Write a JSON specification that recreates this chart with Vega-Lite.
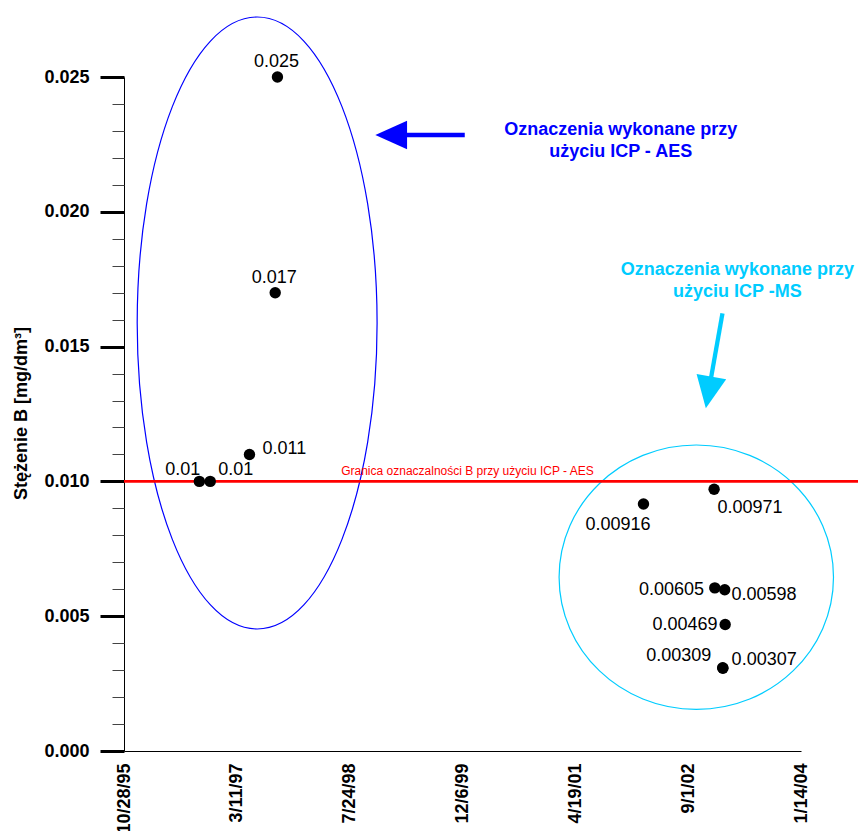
{
  "$schema": "https://vega.github.io/schema/vega-lite/v6.json",
  "width": 677,
  "height": 674,
  "autosize": {"type": "none"},
  "padding": {"left": 124, "top": 77, "right": 57, "bottom": 80},
  "config": {"view": {"stroke": null}, "font": "Liberation Sans"},
  "datasets": {
    "samples": [
      {"n": 1, "date": "1996-09-26", "value": 0.01, "label": "0.01"},
      {"n": 2, "date": "1996-11-13", "value": 0.01, "label": "0.01"},
      {"n": 3, "date": "1997-05-06", "value": 0.011, "label": "0.011"},
      {"n": 4, "date": "1997-08-28", "value": 0.017, "label": "0.017"},
      {"n": 5, "date": "1997-09-07", "value": 0.025, "label": "0.025"},
      {"n": 6, "date": "2002-02-15", "value": 0.00916, "label": "0.00916"},
      {"n": 7, "date": "2002-12-25", "value": 0.00971, "label": "0.00971"},
      {"n": 8, "date": "2002-12-28", "value": 0.00605, "label": "0.00605"},
      {"n": 9, "date": "2003-02-10", "value": 0.00598, "label": "0.00598"},
      {"n": 10, "date": "2003-02-12", "value": 0.00469, "label": "0.00469"},
      {"n": 11, "date": "2003-02-01", "value": 0.00309, "label": "0.00309"},
      {"n": 12, "date": "2003-02-02", "value": 0.00307, "label": "0.00307"}
    ]
  },
  "layer": [
    {
      "layer": [
        {
          "data": {"values": [{}]},
          "mark": {"type": "point", "shape": "M0,-1C0.2165,-1 0.392,-0.5523 0.392,0C0.392,0.5523 0.2165,1 0,1C-0.2165,1 -0.392,0.5523 -0.392,0C-0.392,-0.5523 -0.2165,-1 0,-1Z", "size": 374544, "filled": false, "color": "#0000ff", "strokeWidth": 1.2, "opacity": 1},
          "encoding": {
            "x": {"datum": {"year": 1997, "month": 6, "date": 9}, "type": "temporal", "axis": null},
            "y": {"datum": 0.015875, "type": "quantitative", "axis": null}
          }
        },
        {
          "data": {"values": [{}]},
          "mark": {"type": "point", "shape": "M0,-0.9636C0.5523,-0.9636 1,-0.5322 1,0C1,0.5322 0.5523,0.9636 0,0.9636C-0.5523,0.9636 -1,0.5322 -1,0C-1,-0.5322 -0.5523,-0.9636 0,-0.9636Z", "size": 75295, "filled": false, "color": "#00ccff", "strokeWidth": 1.2, "opacity": 1},
          "encoding": {
            "x": {"datum": {"year": 2002, "month": 10, "date": 7}, "type": "temporal", "axis": null},
            "y": {"datum": 0.006447, "type": "quantitative", "axis": null}
          }
        },
        {
          "data": {"values": [{}]},
          "mark": {"type": "rule", "color": "#ff0000", "strokeWidth": 2.7},
          "encoding": {
            "x": {"datum": {"year": 1995, "month": 10, "date": 28}, "type": "temporal", "axis": null},
            "x2": {"datum": {"year": 2004, "month": 9, "date": 23}},
            "y": {"datum": 0.01, "type": "quantitative", "axis": null}
          }
        },
        {
          "data": {"values": [{}]},
          "mark": {"type": "text", "text": "Granica oznaczalności B przy użyciu ICP - AES", "color": "#ff0000", "fontSize": 12, "align": "center", "baseline": "alphabetic", "dy": -6},
          "encoding": {
            "x": {"datum": {"year": 1999, "month": 12, "date": 28}, "type": "temporal", "axis": null},
            "y": {"datum": 0.01, "type": "quantitative", "axis": null}
          }
        },
        {
          "data": {"values": [{}]},
          "mark": {"type": "rule", "color": "#0000ff", "strokeWidth": 4.3},
          "encoding": {
            "x": {"datum": {"year": 1999, "month": 3, "date": 6}, "type": "temporal", "axis": null},
            "x2": {"datum": {"year": 1999, "month": 12, "date": 16}},
            "y": {"datum": 0.022849, "type": "quantitative", "axis": null}
          }
        },
        {
          "data": {"values": [{}]},
          "mark": {"type": "point", "shape": "M-1,0L1,-0.9L1,0.9Z", "size": 1005, "filled": true, "color": "#0000ff", "opacity": 1, "strokeWidth": 0},
          "encoding": {
            "x": {"datum": {"year": 1999, "month": 1, "date": 24}, "type": "temporal", "axis": null},
            "y": {"datum": 0.022849, "type": "quantitative", "axis": null}
          }
        },
        {
          "data": {"values": [{}]},
          "mark": {"type": "rule", "color": "#00ccff", "strokeWidth": 4.3},
          "encoding": {
            "x": {"datum": {"year": 2003, "month": 1, "date": 31}, "type": "temporal", "axis": null},
            "x2": {"datum": {"year": 2002, "month": 11, "date": 30}},
            "y": {"datum": 0.016235, "type": "quantitative", "axis": null},
            "y2": {"datum": 0.0133}
          }
        },
        {
          "data": {"values": [{}]},
          "mark": {"type": "point", "shape": "M0,1L-0.94,-1L0.94,-1Z", "size": 1024, "angle": 10, "filled": true, "color": "#00ccff", "opacity": 1, "strokeWidth": 0},
          "encoding": {
            "x": {"datum": {"year": 2002, "month": 11, "date": 30, "hours": 14}, "type": "temporal", "axis": null},
            "y": {"datum": 0.013298, "type": "quantitative", "axis": null}
          }
        },
        {
          "data": {"values": [{}]},
          "mark": {"type": "text", "text": ["Oznaczenia wykonane przy", "użyciu ICP - AES"], "color": "#0000ff", "fontSize": 18, "fontWeight": "bold", "align": "center", "baseline": "alphabetic", "lineHeight": 22},
          "encoding": {
            "x": {"datum": {"year": 2001, "month": 11, "date": 6}, "type": "temporal", "axis": null},
            "y": {"datum": 0.022849, "type": "quantitative", "axis": null}
          }
        },
        {
          "data": {"values": [{}]},
          "mark": {"type": "text", "text": ["Oznaczenia wykonane przy", "użyciu ICP -MS"], "color": "#00ccff", "fontSize": 18, "fontWeight": "bold", "align": "center", "baseline": "alphabetic", "lineHeight": 22},
          "encoding": {
            "x": {"datum": {"year": 2003, "month": 4, "date": 7}, "type": "temporal", "axis": null},
            "y": {"datum": 0.017656, "type": "quantitative", "axis": null}
          }
        },
        {
          "data": {"name": "samples"}, "transform": [{"filter": "datum.n == 1"}],
          "mark": {"type": "text", "fontSize": 18, "color": "#000000", "align": "right", "baseline": "alphabetic", "dx": 1, "dy": -6.7},
          "encoding": {"x": {"field": "date", "type": "temporal", "axis": null}, "y": {"field": "value", "type": "quantitative", "axis": null}, "text": {"field": "label"}}
        },
        {
          "data": {"name": "samples"}, "transform": [{"filter": "datum.n == 2"}],
          "mark": {"type": "text", "fontSize": 18, "color": "#000000", "align": "left", "baseline": "alphabetic", "dx": 8, "dy": -6.7},
          "encoding": {"x": {"field": "date", "type": "temporal", "axis": null}, "y": {"field": "value", "type": "quantitative", "axis": null}, "text": {"field": "label"}}
        },
        {
          "data": {"name": "samples"}, "transform": [{"filter": "datum.n == 3"}],
          "mark": {"type": "text", "fontSize": 18, "color": "#000000", "align": "left", "baseline": "alphabetic", "dx": 13, "dy": 0},
          "encoding": {"x": {"field": "date", "type": "temporal", "axis": null}, "y": {"field": "value", "type": "quantitative", "axis": null}, "text": {"field": "label"}}
        },
        {
          "data": {"name": "samples"}, "transform": [{"filter": "datum.n == 4 || datum.n == 5"}],
          "mark": {"type": "text", "fontSize": 18, "color": "#000000", "align": "center", "baseline": "alphabetic", "dx": -1, "dy": -10},
          "encoding": {"x": {"field": "date", "type": "temporal", "axis": null}, "y": {"field": "value", "type": "quantitative", "axis": null}, "text": {"field": "label"}}
        },
        {
          "data": {"name": "samples"}, "transform": [{"filter": "datum.n == 6"}],
          "mark": {"type": "text", "fontSize": 18, "color": "#000000", "align": "right", "baseline": "alphabetic", "dx": 7, "dy": 26.4},
          "encoding": {"x": {"field": "date", "type": "temporal", "axis": null}, "y": {"field": "value", "type": "quantitative", "axis": null}, "text": {"field": "label"}}
        },
        {
          "data": {"name": "samples"}, "transform": [{"filter": "datum.n == 7"}],
          "mark": {"type": "text", "fontSize": 18, "color": "#000000", "align": "left", "baseline": "alphabetic", "dx": 3.4, "dy": 23.4},
          "encoding": {"x": {"field": "date", "type": "temporal", "axis": null}, "y": {"field": "value", "type": "quantitative", "axis": null}, "text": {"field": "label"}}
        },
        {
          "data": {"name": "samples"}, "transform": [{"filter": "datum.n == 8"}],
          "mark": {"type": "text", "fontSize": 18, "color": "#000000", "align": "right", "baseline": "alphabetic", "dx": -10.7, "dy": 7.3},
          "encoding": {"x": {"field": "date", "type": "temporal", "axis": null}, "y": {"field": "value", "type": "quantitative", "axis": null}, "text": {"field": "label"}}
        },
        {
          "data": {"name": "samples"}, "transform": [{"filter": "datum.n == 9"}],
          "mark": {"type": "text", "fontSize": 18, "color": "#000000", "align": "left", "baseline": "alphabetic", "dx": 6.7, "dy": 10},
          "encoding": {"x": {"field": "date", "type": "temporal", "axis": null}, "y": {"field": "value", "type": "quantitative", "axis": null}, "text": {"field": "label"}}
        },
        {
          "data": {"name": "samples"}, "transform": [{"filter": "datum.n == 10"}],
          "mark": {"type": "text", "fontSize": 18, "color": "#000000", "align": "right", "baseline": "alphabetic", "dx": -7.6, "dy": 5.7},
          "encoding": {"x": {"field": "date", "type": "temporal", "axis": null}, "y": {"field": "value", "type": "quantitative", "axis": null}, "text": {"field": "label"}}
        },
        {
          "data": {"name": "samples"}, "transform": [{"filter": "datum.n == 11"}],
          "mark": {"type": "text", "fontSize": 18, "color": "#000000", "align": "right", "baseline": "alphabetic", "dx": -11.3, "dy": -6.7},
          "encoding": {"x": {"field": "date", "type": "temporal", "axis": null}, "y": {"field": "value", "type": "quantitative", "axis": null}, "text": {"field": "label"}}
        },
        {
          "data": {"name": "samples"}, "transform": [{"filter": "datum.n == 12"}],
          "mark": {"type": "text", "fontSize": 18, "color": "#000000", "align": "left", "baseline": "alphabetic", "dx": 8.7, "dy": -3.7},
          "encoding": {"x": {"field": "date", "type": "temporal", "axis": null}, "y": {"field": "value", "type": "quantitative", "axis": null}, "text": {"field": "label"}}
        }
      ]
    },
    {
      "data": {"name": "samples"},
      "mark": {"type": "circle", "size": 130, "color": "#000000", "opacity": 1},
      "encoding": {
        "x": {
          "field": "date", "type": "temporal",
          "scale": {"domain": [{"year": 1995, "month": 10, "date": 28}, {"year": 2004, "month": 1, "date": 14}], "nice": false},
          "axis": {
            "orient": "bottom",
            "values": [
              {"year": 1995, "month": 10, "date": 28},
              {"year": 1997, "month": 3, "date": 11},
              {"year": 1998, "month": 7, "date": 24},
              {"year": 1999, "month": 12, "date": 6},
              {"year": 2001, "month": 4, "date": 19},
              {"year": 2002, "month": 9, "date": 1},
              {"year": 2004, "month": 1, "date": 14}
            ],
            "format": "%-m/%-d/%y", "labelAngle": -90, "labelAlign": "right", "labelBaseline": "middle",
            "labelFontSize": 18, "labelFontWeight": "bold", "labelColor": "#000000", "labelPadding": 12,
            "labelFlush": false, "labelOverlap": false, "labelBound": false,
            "ticks": false, "tickSize": 0, "domainColor": "#000000", "domainWidth": 1, "grid": false, "title": null
          }
        },
        "y": {
          "field": "value", "type": "quantitative",
          "scale": {"domain": [0, 0.025], "nice": false, "zero": false},
          "axis": {
            "orient": "left", "values": [0, 0.005, 0.01, 0.015, 0.02, 0.025], "format": ".3f",
            "labelFontSize": 18, "labelFontWeight": "bold", "labelColor": "#000000", "labelPadding": 11,
            "labelFlush": false, "labelOverlap": false,
            "tickSize": 24, "tickWidth": 3, "tickColor": "#000000", "domainColor": "#000000", "domainWidth": 1, "grid": false,
            "title": "Stężenie B [mg/dm³]", "titleFontSize": 18, "titleFontWeight": "bold", "titleColor": "#000000",
            "titleAngle": -90, "titleAlign": "center", "titleBaseline": "middle", "titleX": -103, "titleY": 336
          }
        }
      }
    },
    {
      "data": {"name": "samples"},
      "mark": {"type": "point", "opacity": 0},
      "encoding": {
        "y": {
          "field": "value", "type": "quantitative",
          "axis": {
            "orient": "left",
            "values": [0.001, 0.002, 0.003, 0.004, 0.006, 0.007, 0.008, 0.009, 0.011, 0.012, 0.013, 0.014, 0.016, 0.017, 0.018, 0.019, 0.021, 0.022, 0.023, 0.024],
            "labels": false, "domain": false, "grid": false, "tickSize": 12, "tickWidth": 1, "tickColor": "#444444", "title": null
          }
        }
      }
    }
  ],
  "resolve": {"axis": {"x": "independent", "y": "independent"}}
}
